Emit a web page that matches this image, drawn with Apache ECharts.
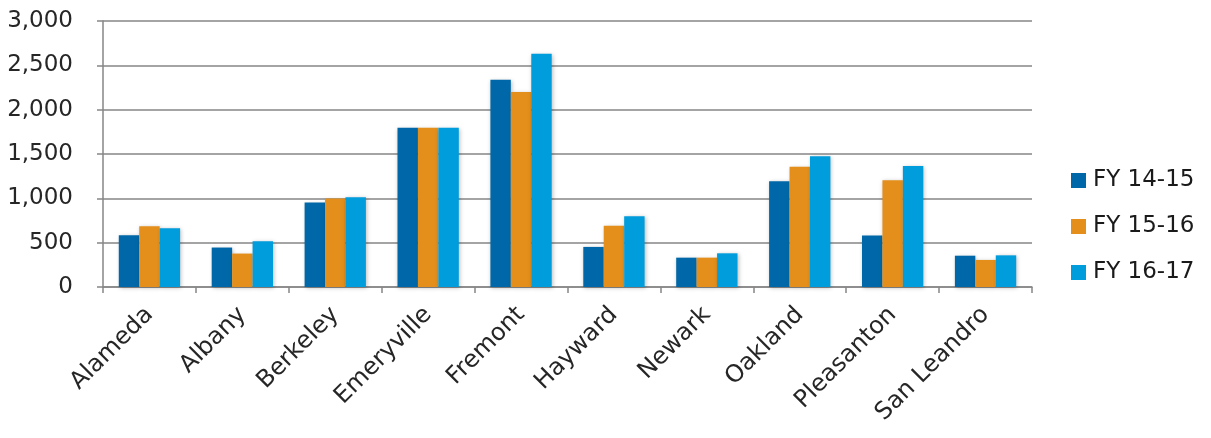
<!DOCTYPE html>
<html>
<head>
<meta charset="utf-8">
<script src="https://cdn.jsdelivr.net/npm/echarts@6/dist/echarts.min.js"></script>
<style>
html,body{margin:0;padding:0;background:#fff;}
#chart{width:1211px;height:438px;}
</style>
</head>
<body>
<div id="chart"></div>
<script>
const categories = ['Alameda','Albany','Berkeley','Emeryville','Fremont','Hayward','Newark','Oakland','Pleasanton','San Leandro'];
const seriesNames = ['FY 14-15','FY 15-16','FY 16-17'];
const fy1415 = [585, 445, 952, 1797, 2338, 452, 331, 1193, 580, 353];
const fy1516 = [685, 377, 998, 1797, 2200, 692, 331, 1357, 1203, 305];
const fy1617 = [662, 515, 1012, 1797, 2632, 797, 380, 1474, 1365, 357];
const colors = ['#0068A8', '#E48F1B', '#009DDC'];

const FONT = 'DejaVu Sans';
const chart = echarts.init(document.getElementById('chart'), null, {renderer:'canvas'});
const values = [fy1415, fy1516, fy1617];
chart.setOption({
  animation: false,
  color: colors,
  grid: {left: 103, right: 179, top: 21, bottom: 151, containLabel: false},
  legend: {
    orient: 'vertical',
    left: 1066, top: 164,
    itemWidth: 15, itemHeight: 15, itemGap: 23,
    icon: 'rect',
    textStyle: {fontFamily: FONT, fontSize: 23, color: '#1a1a1a', padding:[0,0,0,2]},
    data: seriesNames
  },
  xAxis: {
    type: 'category',
    data: categories,
    axisLine: {lineStyle: {color: '#868686', width: 1.5}},
    axisTick: {show: true, alignWithLabel: false, length: 6, lineStyle: {color: '#868686', width: 1.5}},
    axisLabel: {rotate: 45, interval: 0, fontFamily: FONT, fontSize: 24, color: '#262626', margin: 24}
  },
  yAxis: {
    type: 'value',
    min: 0, max: 3000, interval: 500,
    axisLine: {show: true, lineStyle: {color: '#868686', width: 1.5}},
    axisTick: {show: true, length: 6, lineStyle: {color: '#868686', width: 1.5}},
    splitLine: {lineStyle: {color: '#868686', width: 1.5}},
    axisLabel: {
      fontFamily: FONT, fontSize: 23, color: '#262626', margin: 30,
      formatter: v => v.toLocaleString('en-US')
    }
  },
  series: seriesNames.map((n, i) => ({
    name: n,
    type: 'bar',
    data: values[i],
    barGap: '0%',
    barCategoryGap: '34%',
    itemStyle: {color: colors[i], shadowColor: 'rgba(0,0,0,0.25)', shadowBlur: 4, shadowOffsetX: 1, shadowOffsetY: 1}
  }))
});
</script>
</body>
</html>
